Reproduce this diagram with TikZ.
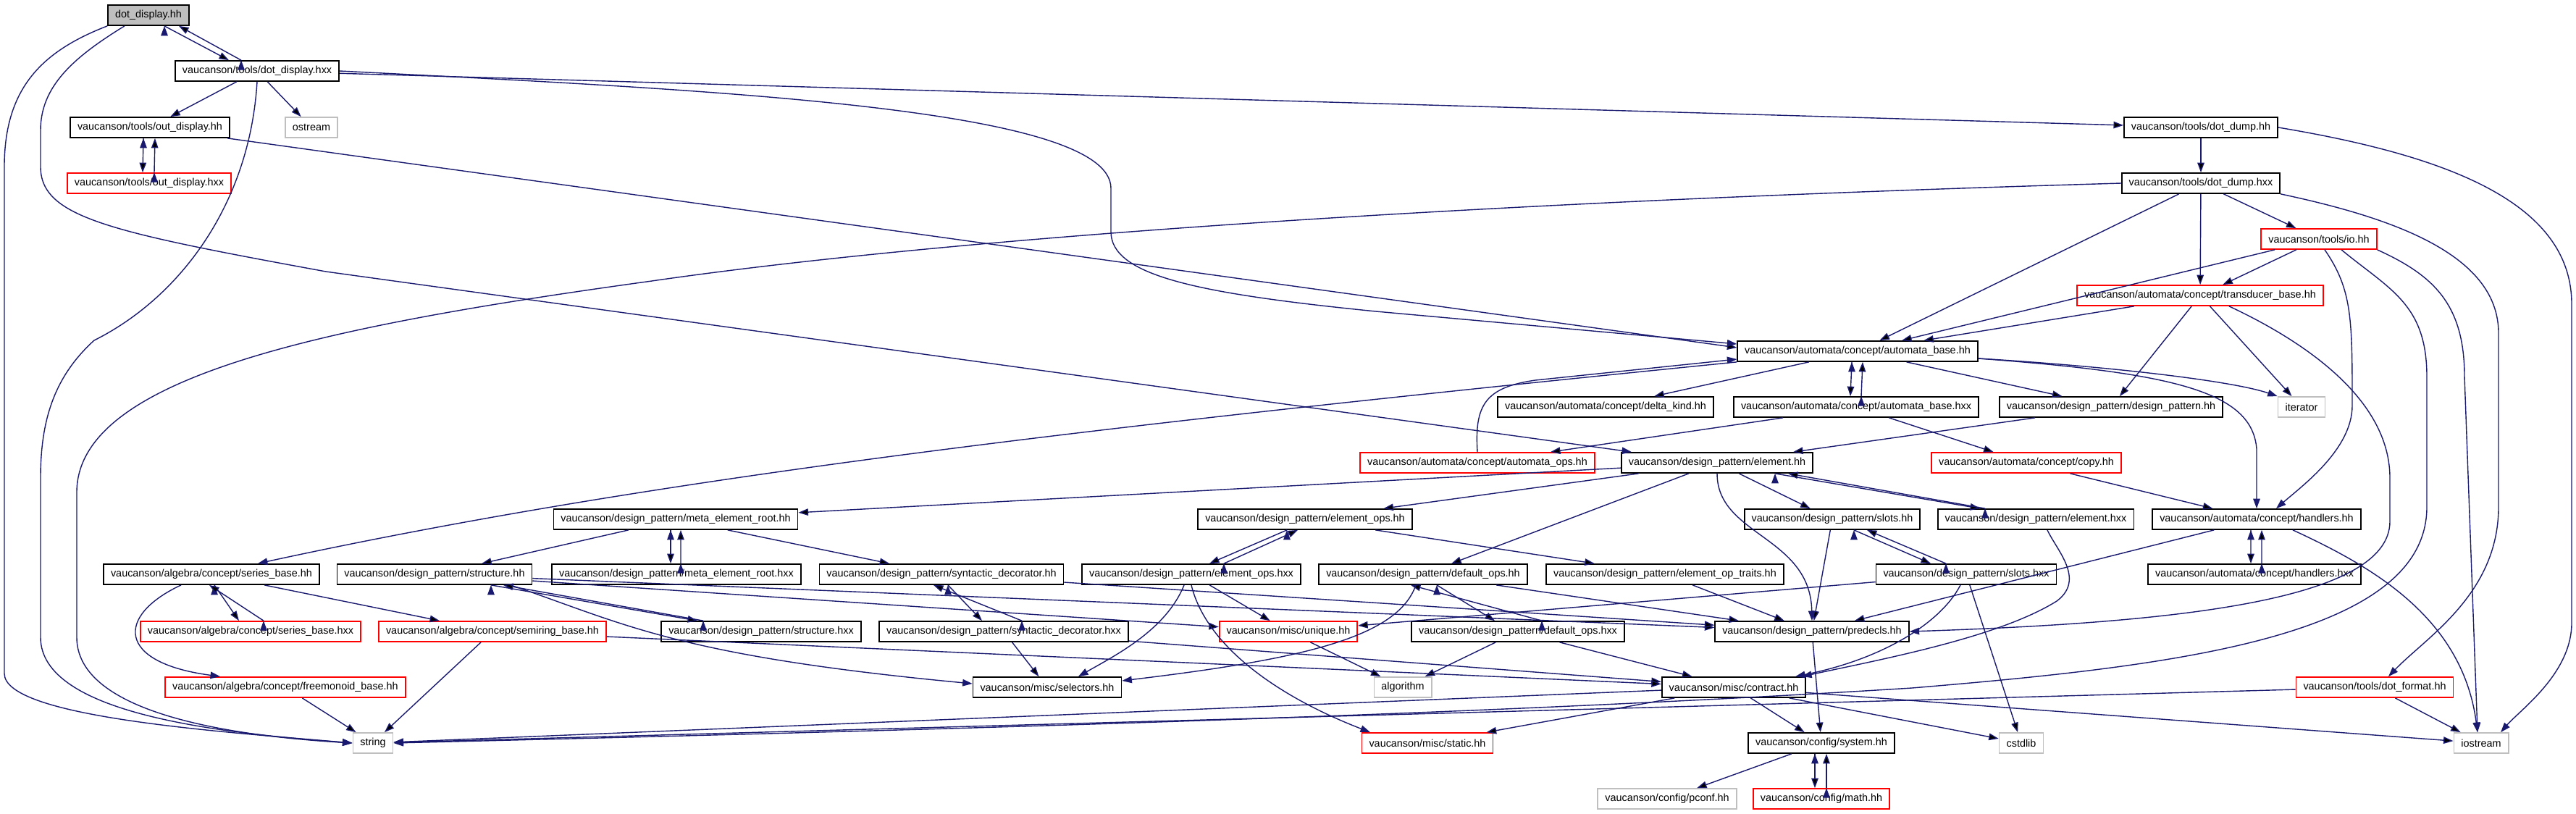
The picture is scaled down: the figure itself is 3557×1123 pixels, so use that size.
\documentclass[tikz,border=0pt]{standalone}
\usepackage{fontspec}
\setmainfont{Liberation Sans}
\usetikzlibrary{arrows.meta}
\definecolor{edgeblue}{HTML}{191970}
\definecolor{boxgray}{HTML}{BFBFBF}
\tikzstyle{every node}=[font=\fontsize{8.2}{10}\selectfont]
\tikzstyle{file}=[rectangle,
                  draw=black,
                  line width=0.035cm,
                  minimum height=0.56cm,
                  inner xsep=0.2cm,
                  inner ysep=0pt]
\tikzstyle{trunc}=[file,draw=red]
\tikzstyle{sysfile}=[file,draw=boxgray]
\tikzstyle{current}=[file,fill=boxgray]
\tikzstyle{dep}=[->,draw=edgeblue,line width=0.028cm]

\begin{document}
\begin{tikzpicture}[x=0.02cm,y=-0.02cm,>={Triangle[length=0.27cm,width=0.19cm]}]
\path[fill=white,use as bounding box] (0,0) rectangle (3557,1123);
\node (dotdisplayhh)    [current] at (205,21)   {dot\_display.hh};
\node (dotdisplayhxx)   [file]    at (355,98)   {vaucanson/tools/dot\_display.hxx};
\node (outdisplayhh)    [file]    at (207,176)  {vaucanson/tools/out\_display.hh};
\node (ostream)         [sysfile] at (430,176)  {ostream};
\node (dotdumphh)       [file]    at (3039,176) {vaucanson/tools/dot\_dump.hh};
\node (outdisplayhxx)   [trunc]   at (206,253)  {vaucanson/tools/out\_display.hxx};
\node (dotdumphxx)      [file]    at (3039,253) {vaucanson/tools/dot\_dump.hxx};
\node (iohh)            [trunc]   at (3202,330) {vaucanson/tools/io.hh};
\node (transducerbase)  [trunc]   at (3038,408) {vaucanson/automata/concept/transducer\_base.hh};
\node (automatabasehh)  [file]    at (2565,485) {vaucanson/automata/concept/automata\_base.hh};
\node (deltakind)       [file]    at (2217,562) {vaucanson/automata/concept/delta\_kind.hh};
\node (automatabasehxx) [file]    at (2563,562) {vaucanson/automata/concept/automata\_base.hxx};
\node (designpattern)   [file]    at (2915,562) {vaucanson/design\_pattern/design\_pattern.hh};
\node (iterator)        [sysfile] at (3178,562) {iterator};
\node (automataops)     [trunc]   at (2040,639) {vaucanson/automata/concept/automata\_ops.hh};
\node (elementhh)       [file]    at (2371,639) {vaucanson/design\_pattern/element.hh};
\node (copyhh)          [trunc]   at (2798,639) {vaucanson/automata/concept/copy.hh};
\node (metaroothh)      [file]    at (933,717)  {vaucanson/design\_pattern/meta\_element\_root.hh};
\node (elementopshh)    [file]    at (1802,717) {vaucanson/design\_pattern/element\_ops.hh};
\node (slotshh)         [file]    at (2530,717) {vaucanson/design\_pattern/slots.hh};
\node (elementhxx)      [file]    at (2811,717) {vaucanson/design\_pattern/element.hxx};
\node (handlershh)      [file]    at (3116,717) {vaucanson/automata/concept/handlers.hh};
\node (seriesbasehh)    [file]    at (292,793)  {vaucanson/algebra/concept/series\_base.hh};
\node (structurehh)     [file]    at (600,793)  {vaucanson/design\_pattern/structure.hh};
\node (metaroothxx)     [file]    at (934,793)  {vaucanson/design\_pattern/meta\_element\_root.hxx};
\node (syndechh)        [file]    at (1300,793) {vaucanson/design\_pattern/syntactic\_decorator.hh};
\node (elementopshxx)   [file]    at (1645,793) {vaucanson/design\_pattern/element\_ops.hxx};
\node (defaultopshh)    [file]    at (1965,793) {vaucanson/design\_pattern/default\_ops.hh};
\node (optraits)        [file]    at (2299,793) {vaucanson/design\_pattern/element\_op\_traits.hh};
\node (slotshxx)        [file]    at (2715,793) {vaucanson/design\_pattern/slots.hxx};
\node (handlershxx)     [file]    at (3113,793) {vaucanson/automata/concept/handlers.hxx};
\node (seriesbasehxx)   [trunc]   at (346,872)  {vaucanson/algebra/concept/series\_base.hxx};
\node (semiringbase)    [trunc]   at (680,872)  {vaucanson/algebra/concept/semiring\_base.hh};
\node (structurehxx)    [file]    at (1051,872) {vaucanson/design\_pattern/structure.hxx};
\node (syndechxx)       [file]    at (1386,872) {vaucanson/design\_pattern/syntactic\_decorator.hxx};
\node (uniquehh)        [trunc]   at (1779,872) {vaucanson/misc/unique.hh};
\node (defaultopshxx)   [file]    at (2096,872) {vaucanson/design\_pattern/default\_ops.hxx};
\node (predecls)        [file]    at (2502,872) {vaucanson/design\_pattern/predecls.hh};
\node (freemonoid)      [trunc]   at (394,949)  {vaucanson/algebra/concept/freemonoid\_base.hh};
\node (selectors)       [file]    at (1446,949) {vaucanson/misc/selectors.hh};
\node (algorithm)       [sysfile] at (1937,949) {algorithm};
\node (contracthh)      [file]    at (2394,949) {vaucanson/misc/contract.hh};
\node (dotformat)       [trunc]   at (3279,949) {vaucanson/tools/dot\_format.hh};
\node (string)          [sysfile] at (515,1026) {string};
\node (statichh)        [trunc]   at (1971,1026) {vaucanson/misc/static.hh};
\node (systemhh)        [file]    at (2515,1026) {vaucanson/config/system.hh};
\node (cstdlib)         [sysfile] at (2791,1026) {cstdlib};
\node (iostream)        [sysfile] at (3426,1026) {iostream};
\node (pconf)           [sysfile] at (2302,1103) {vaucanson/config/pconf.hh};
\node (mathhh)          [trunc]   at (2515,1103) {vaucanson/config/math.hh};
% pairs
\path[dep] ([xshift=0.44cm]dotdisplayhh.south) edge ([xshift=-0.78cm]dotdisplayhxx.north);
\path[dep] ([xshift=-0.44cm]dotdisplayhxx.north) edge ([xshift=0.84cm]dotdisplayhh.south);
\path[dep] ([xshift=-0.18cm]outdisplayhh.south) edge ([xshift=-0.18cm]outdisplayhxx.north);
\path[dep] ([xshift=0.14cm]outdisplayhxx.north) edge ([xshift=0.14cm]outdisplayhh.south);
\path[dep] ([xshift=-0.16cm]automatabasehh.south) edge ([xshift=-0.16cm]automatabasehxx.north);
\path[dep] ([xshift=0.14cm]automatabasehxx.north) edge ([xshift=0.14cm]automatabasehh.south);
\path[dep] ([xshift=1.6cm]elementhh.south) edge ([xshift=-1.54cm]elementhxx.north);
\path[dep] ([xshift=-1.4cm]elementhxx.north) edge ([xshift=1.96cm]elementhh.south);
\path[dep] ([xshift=-0.16cm]handlershh.south) edge ([xshift=-0.1cm]handlershxx.north);
\path[dep] ([xshift=0.2cm]handlershxx.north) edge ([xshift=0.14cm]handlershh.south);
\path[dep] ([xshift=-0.14cm]metaroothh.south) edge ([xshift=-0.16cm]metaroothxx.north);
\path[dep] ([xshift=0.12cm]metaroothxx.north) edge ([xshift=0.14cm]metaroothh.south);
\path[dep] ([xshift=-0.5cm]elementopshh.south) edge ([xshift=0.5cm]elementopshxx.north);
\path[dep] ([xshift=0.9cm]elementopshxx.north) edge ([xshift=-0.2cm]elementopshh.south);
\path[dep] ([xshift=0.6cm]slotshh.south) edge ([xshift=-0.98cm]slotshxx.north);
\path[dep] ([xshift=-0.56cm]slotshxx.north) edge ([xshift=0.96cm]slotshh.south);
\path[dep] ([xshift=0.08cm]seriesbasehh.south) edge ([xshift=-0.32cm]seriesbasehxx.north);
\path[dep] ([xshift=0.36cm]seriesbasehxx.north) edge ([xshift=-0.06cm]seriesbasehh.south);
\path[dep] ([xshift=1.56cm]structurehh.south) edge ([xshift=-1.76cm]structurehxx.north);
\path[dep] ([xshift=-1.6cm]structurehxx.north) edge ([xshift=1.9cm]structurehh.south);
\path[dep] ([xshift=0.18cm]syndechh.south) edge ([xshift=-0.6cm]syndechxx.north);
\path[dep] ([xshift=0.5cm]syndechxx.north) edge ([xshift=-0.22cm]syndechh.south);
\path[dep] ([xshift=0.38cm]defaultopshh.south) edge ([xshift=-0.64cm]defaultopshxx.north);
\path[dep] ([xshift=0.66cm]defaultopshxx.north) edge ([xshift=-0.34cm]defaultopshh.south);
\path[dep] ([xshift=-0.18cm]systemhh.south) edge ([xshift=-0.18cm]mathhh.north);
\path[dep] ([xshift=0.14cm]mathhh.north) edge ([xshift=0.14cm]systemhh.south);
% straight
\path[dep] (dotdisplayhxx) edge (outdisplayhh);
\path[dep] (dotdisplayhxx) edge (ostream);
\path[dep] (dotdisplayhxx) edge (dotdumphh);
\path[dep] (outdisplayhh) edge ([yshift=0.1cm]automatabasehh.west);
\path[dep] (dotdumphh) edge (dotdumphxx);
\path[dep] (dotdumphxx) edge (automatabasehh);
\path[dep] (dotdumphxx) edge (transducerbase);
\path[dep] (dotdumphxx) edge (iohh);
\path[dep] (iohh) edge (automatabasehh);
\path[dep] (iohh) edge (transducerbase);
\path[dep] (transducerbase) edge (automatabasehh);
\path[dep] (transducerbase) edge (designpattern);
\path[dep] (transducerbase) edge (iterator);
\path[dep] (automatabasehh) edge (deltakind);
\path[dep] (automatabasehh) edge (designpattern);
\path[dep] (automatabasehxx) edge (automataops);
\path[dep] (automatabasehxx) edge (copyhh);
\path[dep] (designpattern) edge (elementhh);
\path[dep] (copyhh) edge (handlershh);
\path[dep] (elementhh) edge (metaroothh);
\path[dep] (elementhh) edge (elementopshh);
\path[dep] (elementhh) edge (defaultopshh);
\path[dep] (elementhh) edge (slotshh);
\path[dep] (handlershh) edge (predecls);
\path[dep] (metaroothh) edge (structurehh);
\path[dep] (metaroothh) edge (syndechh);
\path[dep] (elementopshh) edge (optraits);
\path[dep] (slotshh) edge (predecls);
\path[dep] (slotshxx) edge (uniquehh);
\path[dep] (slotshxx) edge (cstdlib);
\path[dep] (seriesbasehh) edge (semiringbase);
\path[dep] (structurehh) edge (predecls);
\path[dep] (structurehh) edge (uniquehh);
\path[dep] (syndechh) edge (predecls);
\path[dep] (syndechxx) edge (selectors);
\path[dep] (syndechxx) edge (contracthh);
\path[dep] (elementopshxx) edge (uniquehh);
\path[dep] (defaultopshh) edge (predecls);
\path[dep] (defaultopshxx) edge (algorithm);
\path[dep] (defaultopshxx) edge (contracthh);
\path[dep] (optraits) edge (predecls);
\path[dep] (uniquehh) edge (algorithm);
\path[dep] (semiringbase) edge (string);
\path[dep] (semiringbase) edge (contracthh);
\path[dep] (freemonoid) edge (string);
\path[dep] (predecls) edge (systemhh);
\path[dep] (contracthh) edge (string);
\path[dep] (contracthh) edge (statichh);
\path[dep] (contracthh) edge (systemhh);
\path[dep] (contracthh) edge (cstdlib);
\path[dep] (contracthh) edge (iostream);
\path[dep] (dotformat) edge (string);
\path[dep] (dotformat) edge (iostream);
\path[dep] (systemhh) edge (pconf);
% curved
\draw[dep] (dotdisplayhh.south west) .. controls (60,70) and (6,120) .. (6,230) -- (6,930) .. controls (6,990) and (300,1010) .. (string.west);
\draw[dep] ([xshift=-0.66cm]dotdisplayhh.south) .. controls (100,80) and (56,120) .. (56,180) -- (56,230) .. controls (56,300) and (150,320) .. (450,375) -- ([xshift=0.3cm]elementhh.north west);
\draw[dep] (dotdisplayhxx.south) .. controls (345,280) and (250,410) .. (130,470) .. controls (75,520) and (56,580) .. (56,660) -- (56,880) .. controls (56,985) and (300,1012) .. (string.west);
\draw[dep] (dotdisplayhxx.east) .. controls (1000,125) and (1534,150) .. (1534,260) -- (1534,320) .. controls (1534,380) and (1650,405) .. (1900,430) -- ([yshift=0.2cm]automatabasehh.west);
\draw[dep] (dotdumphh.east) .. controls (3380,215) and (3551,280) .. (3551,420) -- (3551,860) .. controls (3551,930) and (3480,980) .. ([xshift=0.54cm]iostream.north);
\draw[dep] (dotdumphxx.west) .. controls (2000,280) and (1300,330) .. (900,388) .. controls (450,450) and (106,520) .. (106,680) -- (106,880) .. controls (106,980) and (300,1015) .. (string.west);
\draw[dep] (dotdumphxx.south east) .. controls (3300,300) and (3450,350) .. (3450,460) -- (3450,700) .. controls (3450,820) and (3350,880) .. ([xshift=0.38cm]dotformat.north);
\draw[dep] ([xshift=0.62cm]iohh.south) .. controls (3300,400) and (3351,420) .. (3351,520) -- (3351,700) .. controls (3351,880) and (3000,920) .. (2640,950) .. controls (2000,990) and (1200,1010) .. (string.east);
\draw[dep] (iohh.south east) .. controls (3360,380) and (3403,420) .. (3403,520) -- ([xshift=-0.1cm]iostream.north);
\draw[dep] ([xshift=0.16cm]iohh.south) .. controls (3248,400) and (3248,440) .. (3248,560) .. controls (3248,620) and (3180,670) .. ([xshift=0.54cm]handlershh.north);
\draw[dep] ([xshift=0.8cm]transducerbase.south) .. controls (3200,480) and (3300,560) .. (3300,660) -- (3300,720) .. controls (3300,830) and (3000,860) .. (predecls.east);
\draw[dep] ([yshift=-0.2cm]automatabasehh.east) .. controls (2900,505) and (3080,525) .. (iterator.north west);
\draw[dep] ([yshift=-0.2cm]automatabasehh.east) .. controls (3000,515) and (3110,540) .. (3116,620) -- (handlershh.north);
\draw[dep] (automatabasehh.south west) .. controls (1500,590) and (900,660) .. ([xshift=1.28cm]seriesbasehh.north);
\draw[dep] (automataops.north) .. controls (2036,560) and (2050,535) .. (2120,525) -- ([yshift=-0.22cm]automatabasehh.west);
\draw[dep] (elementhh.south) .. controls (2371,740) and (2500,740) .. (predecls.north);
\draw[dep] ([xshift=0.32cm]elementhxx.south) .. controls (2840,760) and (2880,800) .. (2840,830) .. controls (2760,880) and (2600,910) .. ([xshift=-0.12cm]contracthh.north east);
\draw[dep] ([xshift=-0.16cm]slotshxx.south) .. controls (2680,860) and (2600,910) .. ([xshift=-0.3cm]contracthh.north east);
\draw[dep] ([xshift=1cm]handlershh.south) .. controls (3270,780) and (3400,850) .. ([xshift=-0.1cm]iostream.north);
\draw[dep] ([xshift=2.1cm]structurehh.south) .. controls (860,860) and (930,905) .. ([yshift=0.1cm]selectors.west);
\draw[dep] ([xshift=-0.2cm]defaultopshh.south) .. controls (1930,880) and (1800,910) .. ([yshift=0.18cm]selectors.east);
\draw[dep] ([xshift=-0.2cm]elementopshxx.south) .. controls (1610,870) and (1540,905) .. ([xshift=0.86cm]selectors.north);
\draw[dep] (elementopshxx.south) .. controls (1665,890) and (1760,960) .. ([xshift=-1.58cm]statichh.north);
\draw[dep] ([xshift=-0.84cm]seriesbasehh.south) .. controls (160,850) and (160,915) .. ([xshift=-1.8cm]freemonoid.north);
\end{tikzpicture}
\end{document}
